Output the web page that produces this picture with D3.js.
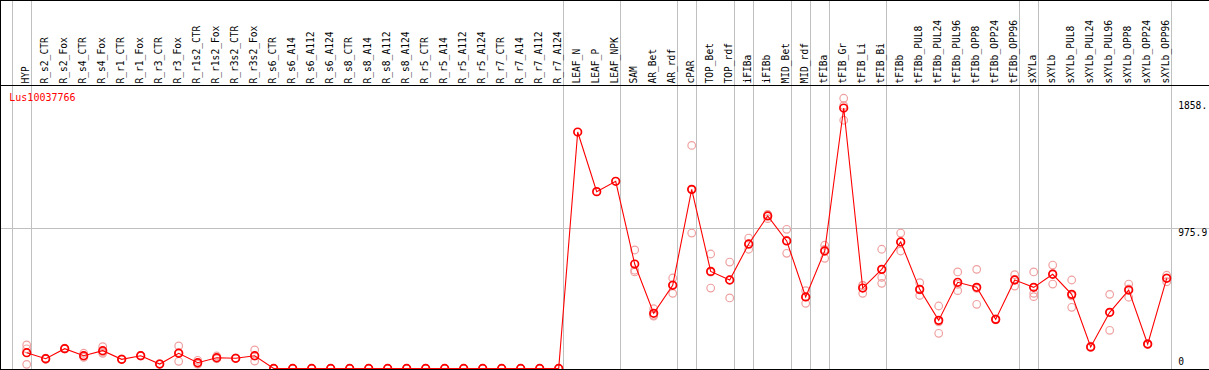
<!DOCTYPE html>
<html>
<head>
<meta charset="utf-8">
<script src="https://cdn.jsdelivr.net/npm/d3@7"></script>
<style>
body { margin: 0; background: #fff; }
svg { display: block; }
text { font-family: "DejaVu Sans Mono", monospace; }
</style>
</head>
<body>
<svg id="expr_chart" width="1209" height="370"></svg>
<script>
var gene_name = "Lus10037766";

var categories = ["HYP", "R_s2_CTR", "R_s2_Fox", "R_s4_CTR", "R_s4_Fox", "R_r1_CTR", "R_r1_Fox",
    "R_r3_CTR", "R_r3_Fox", "R_r1s2_CTR", "R_r1s2_Fox", "R_r3s2_CTR", "R_r3s2_Fox",
    "R_s6_CTR", "R_s6_A14", "R_s6_A112", "R_s6_A124", "R_s8_CTR", "R_s8_A14", "R_s8_A112", "R_s8_A124",
    "R_r5_CTR", "R_r5_A14", "R_r5_A112", "R_r5_A124", "R_r7_CTR", "R_r7_A14", "R_r7_A112", "R_r7_A124",
    "LEAF_N", "LEAF_P", "LEAF_NPK", "SAM", "AR_Bet", "AR_rdf", "cPAR", "TOP_Bet", "TOP_rdf",
    "iFIBa", "iFIBb", "MID_Bet", "MID_rdf", "tFIBa", "tFIB_Gr", "tFIB_Li", "tFIB_Bi", "tFIBb",
    "tFIBb_PUL8", "tFIBb_PUL24", "tFIBb_PUL96", "tFIBb_OPP8", "tFIBb_OPP24", "tFIBb_OPP96",
    "sXYLa", "sXYLb", "sXYLb_PUL8", "sXYLb_PUL24", "sXYLb_PUL96", "sXYLb_OPP8", "sXYLb_OPP24", "sXYLb_OPP96"];

// mean expression per sample
var mean_values = [110, 68, 138, 89, 124, 64, 89, 31, 106, 40, 75, 71, 89,
    0, 0, 0, 0, 0, 0, 0, 0, 0, 0, 0, 0, 0, 0, 0, 0,
    1646, 1231, 1303, 727, 384, 579, 1247, 676, 616,
    867, 1062, 888, 498, 818, 1813, 560, 690, 881,
    551, 335, 600, 565, 342, 616,
    565, 656, 516, 150, 391, 546, 170, 628];

// replicate values per sample
var rep_values = [[164, 137, 29], [72, 66, 66], [142, 136, 136], [106, 84, 78], [152, 115, 106],
    [66, 63, 63], [92, 88, 87], [33, 30, 30], [157, 111, 50], [57, 32, 31], [87, 70, 68],
    [73, 70, 70], [129, 86, 52],
    [0, 0, 0], [0, 0, 0], [0, 0, 0], [0, 0, 0], [0, 0, 0], [0, 0, 0], [0, 0, 0], [0, 0, 0],
    [0, 0, 0], [0, 0, 0], [0, 0, 0], [0, 0, 0], [0, 0, 0], [0, 0, 0], [0, 0, 0], [0, 0, 0],
    [], [], [], [825, 684, 672], [416, 371, 365], [630, 584, 523], [1553, 1245, 943],
    [797, 671, 560], [741, 616, 491], [908, 863, 830], [1072, 1071, 1043], [969, 893, 802],
    [542, 498, 454], [858, 829, 767], [1881, 1830, 1728], [579, 578, 523], [830, 635, 593],
    [943, 882, 818], [597, 547, 509], [435, 325, 245], [672, 586, 542], [690, 558, 447],
    [346, 341, 339], [653, 621, 574], [672, 523, 500], [720, 660, 588], [616, 506, 426],
    [155, 148, 147], [516, 391, 266], [588, 554, 496], [174, 168, 168], [649, 631, 604]];

// group separators come after these sample indexes
var separators = [-1, 0, 28, 31, 34, 35, 37, 38, 40, 41, 42, 45, 52, 53, 60];

var tick_values = [0, 975.9, 1858.9];
var tick_labels = ["0", "975.9", "1858."];
var y_max = 1951.8;

var svg = d3.select("#expr_chart");
var W = 1209, H = 370;
var header_h = 85.5;
var plot_bottom = 369;

var x = d3.scaleLinear().domain([0, categories.length - 1]).range([26.7, 1166.7]);
var y = d3.scaleLinear().domain([0, y_max]).range([368.5, 88.1]);

svg.append("rect").attr("width", W).attr("height", H).attr("fill", "#fff");

// vertical separators
svg.append("g").selectAll("line")
    .data(separators)
    .enter().append("line")
    .attr("x1", function(d){ return Math.round(x(d) + 4) + 0.5; })
    .attr("x2", function(d){ return Math.round(x(d) + 4) + 0.5; })
    .attr("y1", 0).attr("y2", H)
    .attr("stroke", "#c0c0c0")
    .attr("shape-rendering", "crispEdges");

// middle grid line
svg.append("line")
    .attr("x1", 0).attr("x2", W)
    .attr("y1", Math.round(y(tick_values[1])) + 0.5)
    .attr("y2", Math.round(y(tick_values[1])) + 0.5)
    .attr("stroke", "#c0c0c0")
    .attr("shape-rendering", "crispEdges");

// frame
var frame = svg.append("g").attr("stroke", "#000").attr("shape-rendering", "crispEdges");
frame.append("line").attr("x1", 0).attr("x2", W).attr("y1", 0.5).attr("y2", 0.5);
frame.append("line").attr("x1", 0).attr("x2", W).attr("y1", header_h).attr("y2", header_h);
frame.append("line").attr("x1", 0).attr("x2", W).attr("y1", plot_bottom + 0.5).attr("y2", plot_bottom + 0.5);
frame.append("line").attr("x1", 0.5).attr("x2", 0.5).attr("y1", 0).attr("y2", H);

// sample labels
svg.append("g").selectAll("text")
    .data(categories)
    .enter().append("text")
    .attr("transform", function(d, i){ return "translate(" + (x(i) + 2.5) + ",83.5) rotate(-90)"; })
    .attr("font-size", "9.6px")
    .attr("fill", "#000")
    .text(function(d){ return d; });

// plot area
svg.append("clipPath").attr("id", "plot_clip")
    .append("rect").attr("x", 1).attr("y", header_h + 1).attr("width", W).attr("height", plot_bottom - header_h - 1);
var plot = svg.append("g").attr("clip-path", "url(#plot_clip)");

var reps = [];
rep_values.forEach(function(r, i){
    r.forEach(function(v){ reps.push({i: i, v: v}); });
});

plot.append("g").selectAll("circle")
    .data(reps)
    .enter().append("circle")
    .attr("cx", function(d){ return x(d.i); })
    .attr("cy", function(d){ return y(d.v); })
    .attr("r", 3.8)
    .attr("fill", "none")
    .attr("stroke", "#f0a0a0")
    .attr("stroke-width", 1.2);

var line = d3.line()
    .x(function(d, i){ return x(i); })
    .y(function(d){ return y(d); });

plot.append("path")
    .attr("d", line(mean_values))
    .attr("fill", "none")
    .attr("stroke", "#ff0000")
    .attr("stroke-width", 1.1);

plot.append("g").selectAll("circle")
    .data(mean_values)
    .enter().append("circle")
    .attr("cx", function(d, i){ return x(i); })
    .attr("cy", function(d){ return y(d); })
    .attr("r", 3.8)
    .attr("fill", "none")
    .attr("stroke", "#ff0000")
    .attr("stroke-width", 1.7);

// value labels on the right
svg.append("g").selectAll("text")
    .data(tick_values)
    .enter().append("text")
    .attr("x", 1178.3)
    .attr("y", function(d){ return d == 0 ? y(d) - 3.5 : y(d) + 8; })
    .attr("font-size", "9.6px")
    .attr("fill", "#000")
    .text(function(d, i){ return tick_labels[i]; });

svg.append("text")
    .attr("x", 9.3)
    .attr("y", 100.5)
    .attr("font-size", "10px")
    .attr("fill", "#ff0000")
    .text(gene_name);
</script>
</body>
</html>
